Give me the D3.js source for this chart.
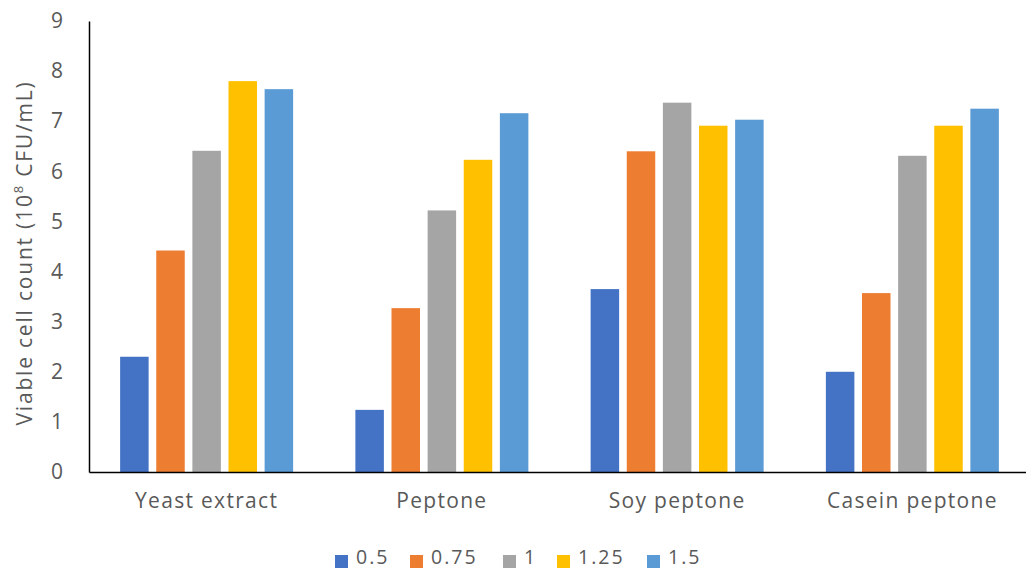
<!DOCTYPE html>
<html><head><meta charset="utf-8">
<script src="https://cdn.jsdelivr.net/npm/d3@7/dist/d3.min.js"></script>
<style>body{margin:0;background:#fff}svg{display:block}</style>
</head><body>
<svg id="c" width="1026" height="571"></svg>
<script>
const categories = ["Yeast extract", "Peptone", "Soy peptone", "Casein peptone"];
const seriesNames = ["0.5", "0.75", "1", "1.25", "1.5"];
const s05 = [2.30, 1.24, 3.65, 2.00];
const s075 = [4.42, 3.27, 6.40, 3.57];
const s1 = [6.41, 5.22, 7.37, 6.31];
const s125 = [7.80, 6.23, 6.91, 6.91];
const s15 = [7.64, 7.16, 7.03, 7.25];
const yTicks = [0,1,2,3,4,5,6,7,8,9];
const colors = ["#4472C4", "#ED7D31", "#A5A5A5", "#FFC000", "#5B9BD5"];

const seriesVals = [s05, s075, s1, s125, s15];
const svg = d3.select("#c");
const font = "'Open Sans', Lato, sans-serif";
const textColor = "#595959";

const x0 = d3.scaleBand().domain(categories).range([89, 1030]).paddingInner(0).paddingOuter(0);
const groupW = 173;
const x1 = d3.scaleBand().domain(seriesNames).range([0, groupW]).paddingInner(0.211).paddingOuter(0);
const y = d3.scaleLinear().domain([0, 9]).range([472, 21]);

const g = svg.append("g");
categories.forEach((c, ci) => {
  const gx = x0(c) + x0.bandwidth()/2 - groupW/2;
  seriesNames.forEach((s, si) => {
    const v = seriesVals[si][ci];
    g.append("rect")
      .attr("x", gx + x1(s))
      .attr("y", y(v))
      .attr("width", x1.bandwidth())
      .attr("height", y(0) - y(v))
      .attr("fill", colors[si]);
  });
});

// y axis
const yAxis = d3.axisLeft(y).tickValues(yTicks).tickSize(0).tickPadding(26);
const ya = svg.append("g").attr("transform", "translate(89,0)").call(yAxis);
ya.select(".domain").attr("stroke", "#000").attr("stroke-width", 1.5);
ya.selectAll("text").attr("font-family", font).attr("font-size", 21).attr("letter-spacing", 0).attr("fill", textColor);

// x axis
const xAxis = d3.axisBottom(x0).tickSize(0).tickPadding(21);
const xa = svg.append("g").attr("transform", "translate(0,472)").call(xAxis);
xa.select(".domain").attr("stroke", "#000").attr("stroke-width", 1.5);
xa.selectAll("text").attr("font-family", font).attr("font-size", 21).attr("letter-spacing", 1.3).attr("fill", textColor);

// y title
const yt = svg.append("text")
  .attr("transform", "translate(32,253) rotate(-90)")
  .attr("text-anchor", "middle")
  .attr("font-family", font).attr("font-size", 21).attr("letter-spacing", 1.8).attr("fill", textColor);
yt.append("tspan").text("Viable cell count (10");
yt.append("tspan").attr("font-size", 13).attr("dy", -9).text("8");
yt.append("tspan").attr("dy", 9).text(" CFU/mL)");

// legend
const legX = [335, 410, 503, 557, 647];
const lg = svg.append("g");
seriesNames.forEach((s, i) => {
  lg.append("rect").attr("x", legX[i]).attr("y", 555).attr("width", 13).attr("height", 13).attr("fill", colors[i]);
  lg.append("text").attr("x", legX[i] + 21).attr("y", 557).attr("dy", "0.35em")
    .attr("font-family", font).attr("font-size", 19.5).attr("letter-spacing", 2.0).attr("fill", textColor).text(s);
});
</script>
</body></html>
